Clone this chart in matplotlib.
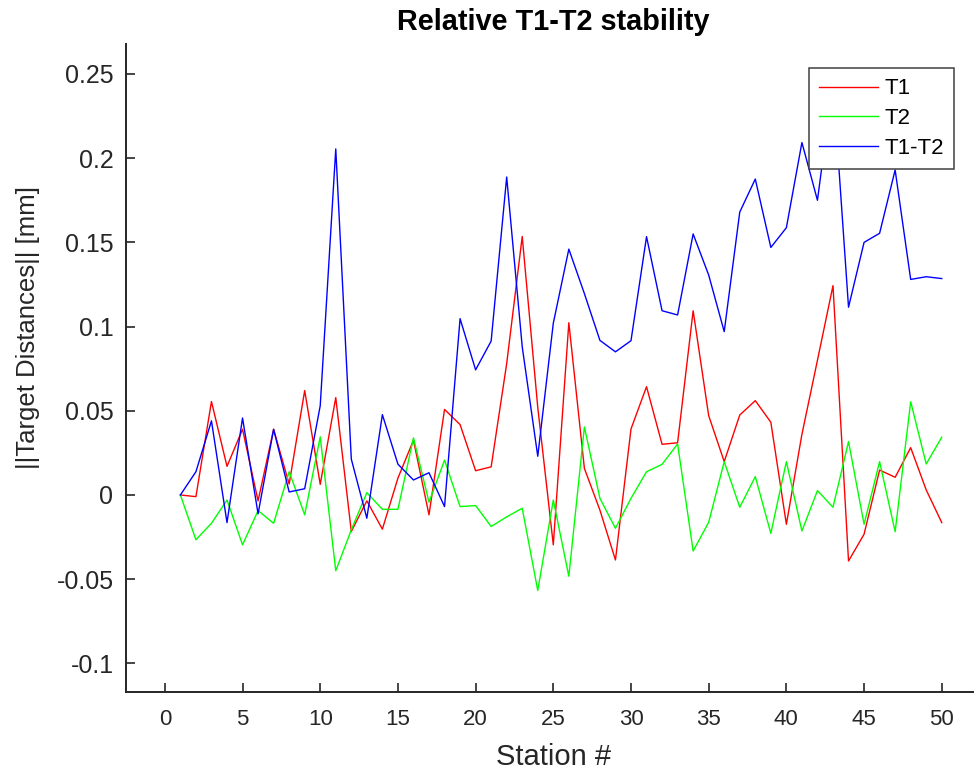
import numpy as np
import matplotlib
matplotlib.use('Agg')
import matplotlib.pyplot as plt

plt.rcParams['font.family'] = ['Liberation Sans', 'DejaVu Sans']
plt.rcParams['axes.unicode_minus'] = False

# --- donnees ---
stations = list(range(1, 51))

t1 = [0.0, -0.001, 0.0555, 0.017, 0.039, -0.0035, 0.039, 0.0065, 0.062, 0.0063,
      0.0578, -0.0217, -0.0035, -0.0203, 0.010, 0.0325, -0.0118, 0.0508, 0.0418, 0.0144,
      0.0167, 0.078, 0.1535, 0.052, -0.0296, 0.1023, 0.0158, -0.009, -0.0386, 0.0392,
      0.0643, 0.0301, 0.031, 0.1094, 0.0471, 0.0198, 0.0475, 0.056, 0.0432, -0.0174,
      0.036, 0.080, 0.1243, -0.0392, -0.0233, 0.0148, 0.0105, 0.0281, 0.003, -0.0164]

t2 = [0.0, -0.0266, -0.0168, -0.003, -0.0296, -0.0093, -0.0168, 0.0138, -0.0118, 0.0345,
      -0.045, -0.0207, 0.0014, -0.0085, -0.0085, 0.0339, -0.0043, 0.0207, -0.0069, -0.0063,
      -0.0187, -0.013, -0.0079, -0.0567, -0.003, -0.0483, 0.0404, -0.002, -0.0198, -0.002,
      0.0138, 0.0182, 0.0303, -0.0333, -0.0162, 0.0198, -0.0073, 0.0109, -0.0228, 0.0198,
      -0.0214, 0.0026, -0.0073, 0.0317, -0.0174, 0.0198, -0.0218, 0.0554, 0.0184, 0.0343]

t1_t2 = [0.0, 0.0138, 0.044, -0.0164, 0.0457, -0.0112, 0.039, 0.0018, 0.0037, 0.053,
         0.2055, 0.0213, -0.0138, 0.0477, 0.0183, 0.0089, 0.0132, -0.0069, 0.1047, 0.0743,
         0.0914, 0.1888, 0.088, 0.023, 0.102, 0.146, 0.1196, 0.0918, 0.085, 0.0916,
         0.1534, 0.1094, 0.1069, 0.155, 0.1306, 0.097, 0.168, 0.1876, 0.147, 0.1587,
         0.2093, 0.175, 0.245, 0.1115, 0.150, 0.1554, 0.193, 0.128, 0.1296, 0.1285]

x_ticks = list(range(0, 51, 5))
y_ticks = [-0.1, -0.05, 0, 0.05, 0.1, 0.15, 0.2, 0.25]
y_tick_labels = ['-0.1', '-0.05', '0', '0.05', '0.1', '0.15', '0.2', '0.25']

gris = '#262626'

# --- figure ---
fig = plt.figure(figsize=(9.74, 7.70), dpi=100)
ax = fig.add_axes([126 / 974, 78 / 770, 854.6 / 974, 648 / 770])

ax.plot(stations, t1, color='#ff0000', lw=1.0, label='T1')
ax.plot(stations, t2, color='#00ff00', lw=1.0, label='T2')
ax.plot(stations, t1_t2, color='#0000ff', lw=1.0, label='T1-T2')

ax.set_xlim(-2.5, 52.5)
ax.set_ylim(-0.117, 0.2678)

ax.set_xticks(x_ticks)
ax.set_yticks(y_ticks)
ax.set_yticklabels(y_tick_labels)

# style MATLAB : pas de boite, graduations vers l'interieur
ax.spines['top'].set_visible(False)
ax.spines['right'].set_visible(False)
for s in ['left', 'bottom']:
    ax.spines[s].set_color(gris)
    ax.spines[s].set_linewidth(1.4)
ax.tick_params(axis='both', direction='in', length=6.5, width=1.2, colors=gris)
ax.tick_params(axis='y', labelsize=18, pad=9)
ax.tick_params(axis='x', labelsize=16, pad=12)

ax.set_xlabel('Station #', fontsize=21, color=gris, va='center')
ax.xaxis.set_label_coords(0.5, -0.1003)
ax.set_ylabel('||Target Distances|| [mm]', fontsize=18.5, color=gris, va='center')
ax.yaxis.set_label_coords(-0.1147, 0.5625)

ax.set_title('Relative T1-T2 stability', fontsize=20.8, fontweight='bold', pad=10)

leg = ax.legend(loc='upper left', bbox_to_anchor=(809.3 / 974, 1 - 68.3 / 770),
                bbox_transform=fig.transFigure, borderaxespad=0, fontsize=16,
                handlelength=2.65, handletextpad=0.3, borderpad=0.45,
                labelspacing=0.4, fancybox=False, framealpha=1)
leg.get_frame().set_edgecolor('#404040')
leg.get_frame().set_linewidth(1.1)

fig.savefig('out.png', dpi=100)
